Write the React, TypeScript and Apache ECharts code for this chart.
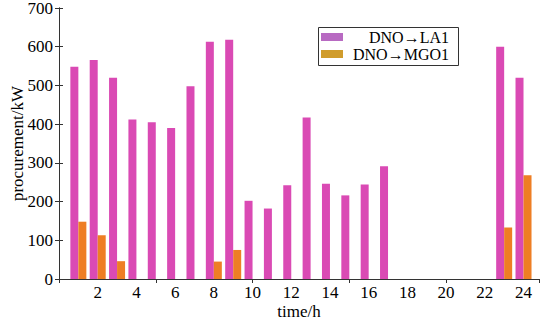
import React, { useEffect, useRef } from "react";
import * as echarts from "echarts";

const hours = [1, 2, 3, 4, 5, 6, 7, 8, 9, 10, 11, 12, 13, 14, 15, 16, 17, 18, 19, 20, 21, 22, 23, 24];
const seriesNames = ["DNO→LA1", "DNO→MGO1"];
const la1 = [548, 566, 520, 412, 405, 390, 498, 613, 618, 202, 182, 242, 417, 246, 216, 244, 291, 0, 0, 0, 0, 0, 600, 520];
const mgo1 = [148, 113, 46, 0, 0, 0, 0, 45, 75, 0, 0, 0, 0, 0, 0, 0, 0, 0, 0, 0, 0, 0, 133, 268];
const barColors = ["#da4ab4", "#ee7e24"];
const legendColors = ["#b86ac2", "#d09c2c"];

const FONT = "Liberation Serif";

export default function App() {
  const ref = useRef<HTMLDivElement>(null);
  useEffect(() => {
    if (!ref.current) return;
    const chart = echarts.init(ref.current, null, { renderer: "svg" });
    const axisLine = { show: true, lineStyle: { color: "#333", width: 1 } };
    const legendItems = seriesNames.flatMap((n, i) => [
      {
        type: "rect",
        shape: { x: 321, y: 33 + i * 17, width: 22, height: 8 },
        style: { fill: legendColors[i] },
        z: 101,
      },
      {
        type: "text",
        x: 449,
        y: 37.5 + i * 17,
        style: {
          text: n,
          font: `16px ${FONT}`,
          fill: "#000",
          align: "right",
          verticalAlign: "middle",
        },
        z: 101,
      },
    ]);
    chart.setOption({
      animation: false,
      backgroundColor: "#fff",
      grid: { left: 59, right: 11, top: 8, bottom: 50, containLabel: false, outerBoundsMode: "none" },
      graphic: [
        {
          type: "rect",
          shape: { x: 318.5, y: 27.5, width: 140, height: 38 },
          style: { fill: "#fff", stroke: "#333", lineWidth: 1 },
          z: 100,
        },
        ...legendItems,
      ],
      xAxis: [
        {
          type: "value",
          min: 0,
          max: 24.8,
          interval: 2,
          position: "bottom",
          name: "time/h",
          nameLocation: "middle",
          nameGap: 24,
          nameMoveOverlap: false,
          nameTextStyle: { fontFamily: FONT, fontSize: 17, color: "#000" },
          axisLine,
          axisTick: { show: false },
          axisLabel: {
            fontFamily: FONT,
            fontSize: 17,
            color: "#000",
            margin: 5,
            showMinLabel: false,
            showMaxLabel: false,
          },
          splitLine: { show: false },
        },
        {
          type: "value",
          min: 0,
          max: 24.8,
          interval: 5,
          position: "top",
          axisLine,
          axisTick: { show: true, inside: true, length: 4, lineStyle: { color: "#333" } },
          axisLabel: { show: false },
          splitLine: { show: false },
        },
      ],
      yAxis: [
        {
          type: "value",
          min: 0,
          max: 700,
          interval: 100,
          position: "left",
          name: "procurement/kW",
          nameLocation: "middle",
          nameGap: 33,
          nameMoveOverlap: false,
          nameTextStyle: { fontFamily: FONT, fontSize: 17, color: "#000" },
          axisLine,
          axisTick: { show: true, inside: true, length: 4, lineStyle: { color: "#333" } },
          axisLabel: { fontFamily: FONT, fontSize: 17, color: "#000", margin: 6 },
          splitLine: { show: false },
        },
        {
          type: "value",
          min: 0,
          max: 700,
          interval: 100,
          position: "right",
          axisLine,
          axisTick: { show: true, inside: true, length: 4, lineStyle: { color: "#333" } },
          axisLabel: { show: false },
          splitLine: { show: false },
        },
      ],
      series: [
        {
          name: seriesNames[0],
          type: "bar",
          xAxisIndex: 0,
          yAxisIndex: 0,
          barWidth: 8,
          barGap: "0%",
          itemStyle: { color: barColors[0] },
          data: hours.map((h, i) => [h, la1[i]]),
        },
        {
          name: seriesNames[1],
          type: "bar",
          xAxisIndex: 0,
          yAxisIndex: 0,
          barWidth: 8,
          barGap: "0%",
          itemStyle: { color: barColors[1] },
          data: hours.map((h, i) => [h, mgo1[i]]),
        },
      ],
    });
    return () => chart.dispose();
  }, []);
  return (
    <div
      ref={ref}
      style={{ position: "absolute", left: 0, top: 0, width: 550, height: 329 }}
    />
  );
}
